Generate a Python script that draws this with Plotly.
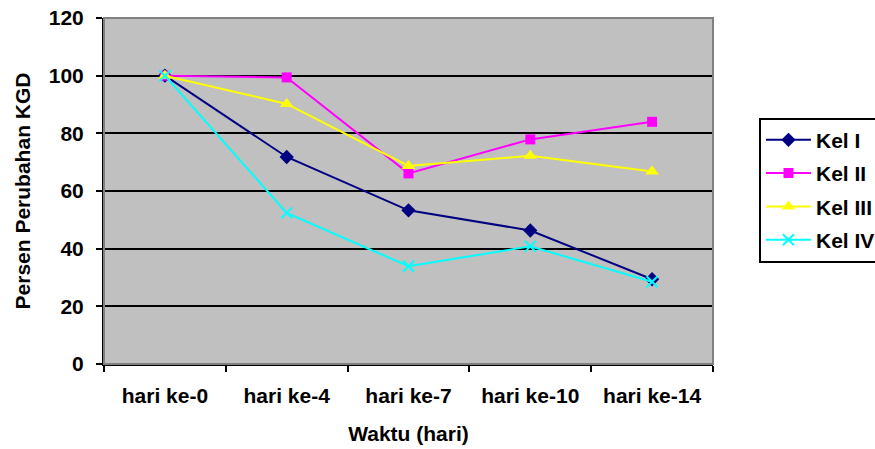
import plotly.graph_objects as go

categories = ["hari ke-0", "hari ke-4", "hari ke-7", "hari ke-10", "hari ke-14"]
kel_1 = [100, 71.8, 53.3, 46.3, 29.4]
kel_2 = [100, 99.4, 66.1, 77.9, 84.0]
kel_3 = [100, 90.2, 68.7, 72.2, 66.8]
kel_4 = [100, 52.4, 33.9, 40.8, 28.5]
y_ticks = [0, 20, 40, 60, 80, 100, 120]

series = [
    ("Kel I", kel_1, "#000080", "diamond", 11, 2),
    ("Kel II", kel_2, "#FF00FF", "square", 10, 2),
    ("Kel III", kel_3, "#FFFF00", "triangle-up", 12, 2),
    ("Kel IV", kel_4, "#00FFFF", "x-thin", 11, 2),
]

FONT = "Liberation Sans"
FS = 21

fig = go.Figure()
for i, (name, vals, color, sym, size, lw) in enumerate(series):
    marker = dict(symbol=sym, size=size, color=color)
    if sym == "x-thin":
        marker["line"] = dict(color=color, width=2)
    fig.add_trace(go.Scatter(
        x=categories, y=vals, name=name, mode="lines+markers",
        line=dict(color=color, width=lw), marker=marker,
        legendgroup=f"g{i}",
    ))

fig.add_shape(type="rect", xref="x domain", yref="y domain",
              x0=0, x1=1, y0=0, y1=1, line=dict(color="#808080", width=2),
              layer="above")

fig.update_layout(
    width=875, height=449,
    margin=dict(l=104, r=162, t=18, b=85, autoexpand=False),
    paper_bgcolor="white", plot_bgcolor="#C0C0C0",
    font=dict(family=FONT, size=FS, color="black"),
    showlegend=True,
    legend=dict(
        x=1.0755, xanchor="left", y=0.712, yanchor="top",
        bgcolor="white", bordercolor="black", borderwidth=2,
        font=dict(family=FONT, size=FS, color="black", weight="bold"),
        traceorder="grouped", tracegroupgap=3, itemwidth=45,
    ),
    xaxis=dict(
        type="category", range=[-0.5, 4.5], showgrid=False, showline=True,
        linecolor="black", linewidth=2, ticks="outside",
        tickson="boundaries", ticklen=6, tickwidth=2, tickcolor="black",
        ticklabelstandoff=12,
        tickfont=dict(family=FONT, size=FS, weight="bold"),
        title=dict(text="Waktu (hari)", standoff=20,
                   font=dict(family=FONT, size=FS, weight="bold")),
    ),
    yaxis=dict(
        range=[0, 120], tickvals=y_ticks, showgrid=True, gridcolor="black",
        gridwidth=2, showline=True, linecolor="black", linewidth=2,
        zeroline=False, ticks="outside", ticklen=6, tickwidth=2,
        tickcolor="black", ticklabelstandoff=8, ticklabeloverflow="allow",
        tickfont=dict(family=FONT, size=FS, weight="bold"),
        title=dict(text="Persen Perubahan KGD", standoff=12,
                   font=dict(family=FONT, size=FS, weight="bold")),
    ),
)

fig.write_html("out.html", config={"displayModeBar": False},
               post_script="document.body.style.margin='0';")
